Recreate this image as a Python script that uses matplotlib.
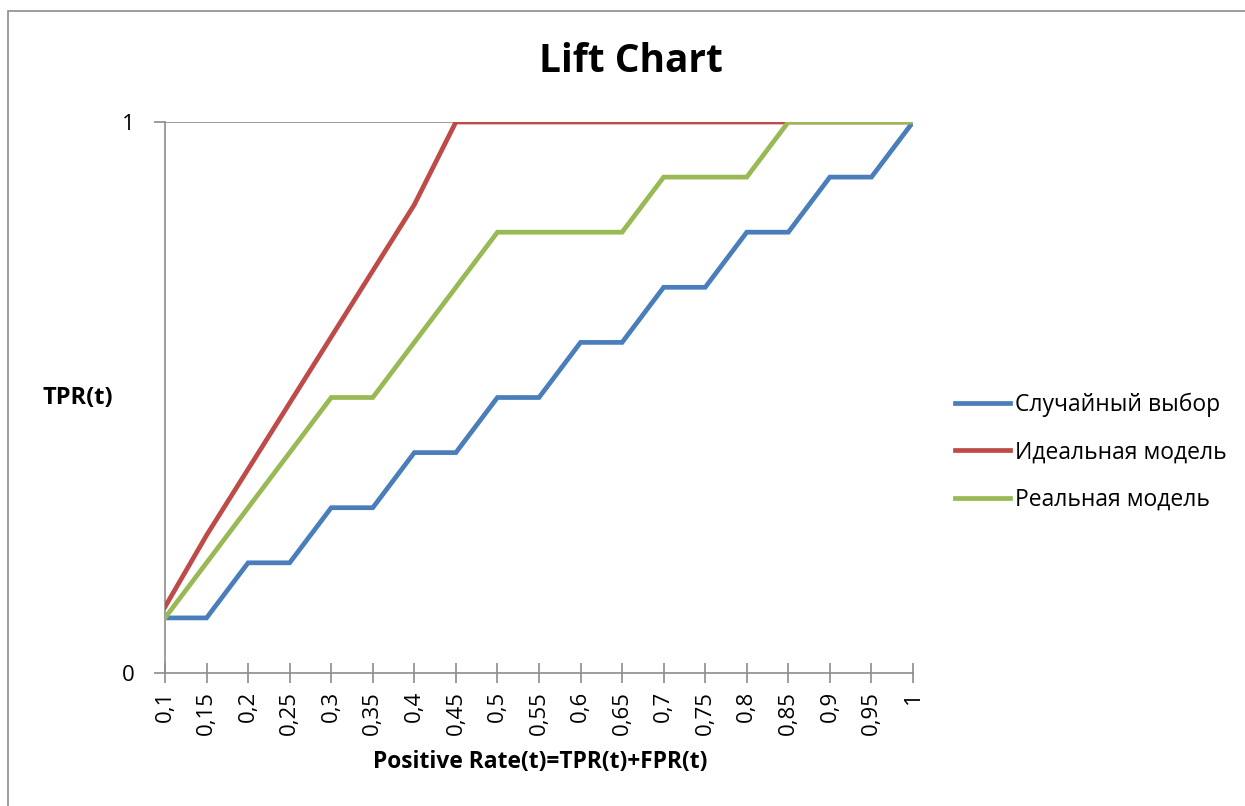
import matplotlib
matplotlib.use("Agg")
import matplotlib.pyplot as plt
from matplotlib.lines import Line2D
from matplotlib.patches import Rectangle

categories = ["0,1", "0,15", "0,2", "0,25", "0,3", "0,35", "0,4", "0,45", "0,5", "0,55",
              "0,6", "0,65", "0,7", "0,75", "0,8", "0,85", "0,9", "0,95", "1"]
random_sel = [0.1, 0.1, 0.2, 0.2, 0.3, 0.3, 0.4, 0.4, 0.5, 0.5,
              0.6, 0.6, 0.7, 0.7, 0.8, 0.8, 0.9, 0.9, 1.0]
ideal_model = [0.12, 0.25, 0.37, 0.49, 0.61, 0.73, 0.85, 1.0, 1.0, 1.0,
               1.0, 1.0, 1.0, 1.0, 1.0, 1.0, 1.0, 1.0, 1.0]
real_model = [0.1, 0.2, 0.3, 0.4, 0.5, 0.5, 0.6, 0.7, 0.8, 0.8,
              0.8, 0.8, 0.9, 0.9, 0.9, 1.0, 1.0, 1.0, 1.0]
series_names = ["Случайный выбор", "Идеальная модель", "Реальная модель"]
colors = ["#4a7ebb", "#be4b48", "#98b954"]

plt.rcParams['font.family'] = ['Open Sans', 'DejaVu Sans']

W, H = 1245, 806
fig = plt.figure(figsize=(W / 100, H / 100), dpi=100)

# outer chart border
fig.patches.append(Rectangle((8 / W, -0.05), 1.2, 1 - 11 / H + 0.05, transform=fig.transFigure,
                             fill=False, edgecolor="#8c8c8c", linewidth=1.2))

ax = fig.add_axes([165 / W, 1 - 673 / H, (913 - 165) / W, (673 - 122) / H])
x = list(range(len(categories)))
lw = 3.4
for vals, c, name in zip([random_sel, ideal_model, real_model], colors, series_names):
    ax.plot(x, vals, color=c, linewidth=lw, solid_joinstyle="miter", label=name, zorder=3)

ax.set_xlim(0, len(categories) - 1)
ax.set_ylim(0, 1)
ax.set_yticks([0, 1])
ax.set_yticklabels(["0", "1"], fontsize=16)
ax.set_xticks(x)
ax.set_xticklabels(categories, rotation=90, fontsize=16)
ax.axhline(1, color="#8c8c8c", linewidth=1.2, zorder=1)
for s in ["top", "right"]:
    ax.spines[s].set_visible(False)
for s in ["left", "bottom"]:
    ax.spines[s].set_color("#8c8c8c")
    ax.spines[s].set_linewidth(1.2)
ax.tick_params(axis="x", direction="inout", length=14, color="#8c8c8c", width=1.2, pad=6)
ax.tick_params(axis="y", direction="out", length=8, color="#8c8c8c", width=1.2, pad=14)

fig.text(631 / W, 1 - 62 / H, "Lift Chart", fontsize=28, fontweight="bold",
         ha="center", va="center")
fig.text(78 / W, 1 - 398 / H, "TPR(t)", fontsize=17, fontweight="bold",
         ha="center", va="center")
fig.text(540 / W, 1 - 762 / H, "Positive Rate(t)=TPR(t)+FPR(t)", fontsize=16.4,
         fontweight="bold", ha="center", va="center")

handles = [Line2D([0], [0], color=c, linewidth=lw) for c in colors]
fig.legend(handles, series_names, loc="center left", bbox_to_anchor=(934 / W, 1 - 452 / H),
           frameon=False, fontsize=16.5, handlelength=2.4, handletextpad=0.22,
           labelspacing=1.03)

fig.savefig("out.png", dpi=100)
